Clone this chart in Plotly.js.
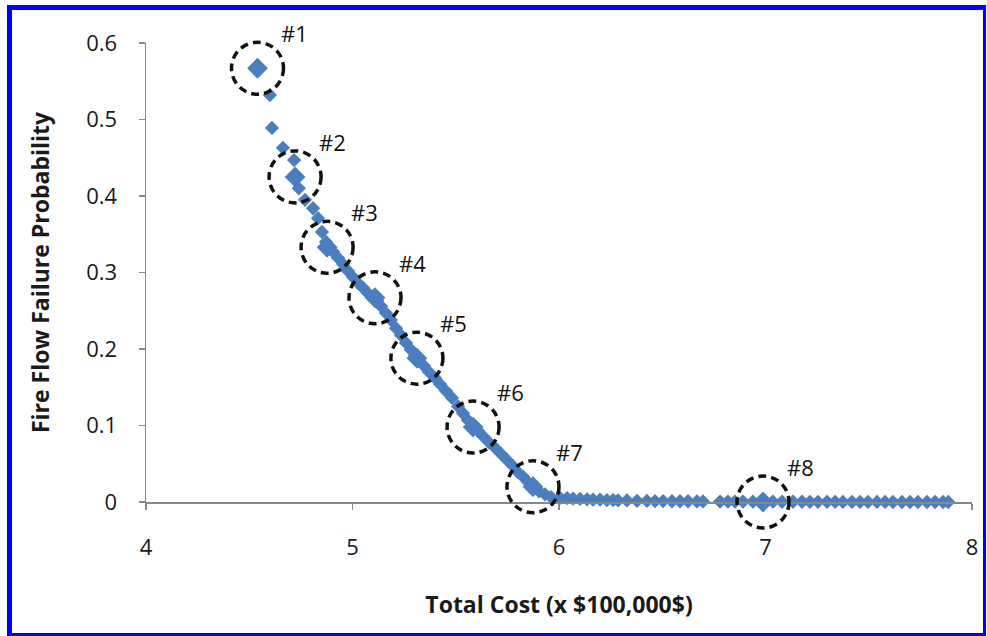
<!DOCTYPE html>
<html>
<head>
<meta charset="utf-8">
<script src="https://cdn.plot.ly/plotly-3.0.1.min.js"></script>
<style>
html,body{margin:0;padding:0;background:#fff;}
#wrap{position:relative;width:987px;height:636px;}
#chart{width:987px;height:636px;}
#frame{position:absolute;left:7px;top:5px;right:1px;bottom:0px;border-style:solid;border-color:#0000ff;border-width:5px 3px 3px 5px;pointer-events:none;box-sizing:border-box;}
</style>
</head>
<body>
<div id="wrap"><div id="chart"></div><div id="frame"></div></div>
<script>
// Pareto front: total cost (x $100,000) vs fire flow failure probability
const costX = [
  4.542, 4.600, 4.610, 4.663, 4.717, 4.722, 4.740, 4.770,
  4.809, 4.833, 4.852, 4.872, 4.886, 4.906, 4.930, 4.954, 4.978, 5.002,
  5.027, 5.051, 5.075, 5.099, 5.119, 5.138, 5.162, 5.186, 5.211, 5.235,
  5.259, 5.283, 5.303, 5.322, 5.346, 5.370, 5.400, 5.424, 5.453, 5.482,
  5.511, 5.535, 5.559, 5.584, 5.608, 5.632, 5.661, 5.690, 5.719, 5.748,
  5.777, 5.801, 5.826, 5.850, 5.874, 5.903, 5.932, 5.961,
  6.005, 6.039, 6.068, 6.102, 6.136, 6.165, 6.199, 6.232, 6.262, 6.286,
  6.329, 6.378, 6.426, 6.465, 6.504, 6.547, 6.586, 6.625, 6.668, 6.697,
  6.780, 6.818, 6.852, 6.891, 6.939, 6.988, 7.036, 7.080, 7.133, 7.177,
  7.215, 7.254, 7.298, 7.337, 7.375, 7.419, 7.458, 7.496, 7.540, 7.579,
  7.617, 7.661, 7.700, 7.738, 7.782, 7.821, 7.860, 7.885
];
const failProb = [
  0.567, 0.532, 0.489, 0.463, 0.447, 0.425, 0.410, 0.395,
  0.384, 0.371, 0.353, 0.340, 0.332, 0.327, 0.319, 0.311, 0.302, 0.294,
  0.286, 0.280, 0.273, 0.268, 0.263, 0.256, 0.247, 0.238, 0.227, 0.218,
  0.208, 0.199, 0.191, 0.184, 0.178, 0.170, 0.162, 0.154, 0.145, 0.136,
  0.125, 0.116, 0.107, 0.099, 0.093, 0.086, 0.078, 0.071, 0.063, 0.055,
  0.047, 0.039, 0.033, 0.026, 0.020, 0.014, 0.010, 0.0065,
  0.0055, 0.005, 0.0045, 0.004, 0.0035, 0.003, 0.003, 0.0025, 0.0025, 0.002,
  0.002, 0.0015, 0.0015, 0.0012, 0.0012, 0.001, 0.001, 0.001, 0.0008, 0.0008,
  0.0006, 0.0006, 0.0005, 0.0005, 0.0004, 0.0, 0.0004, 0.0003, 0.0003, 0.0003,
  0.0002, 0.0002, 0.0002, 0.0002, 0.0001, 0.0001, 0.0001, 0.0001, 0.0001, 0.0001,
  0.0, 0.0, 0.0, 0.0, 0.0, 0.0, 0.0, 0.0
];
// Selected solutions (circled)
const selLabels = ["#1", "#2", "#3", "#4", "#5", "#6", "#7", "#8"];
const selX = [4.540, 4.722, 4.877, 5.109, 5.312, 5.584, 5.874, 6.988];
const selY = [0.567, 0.425, 0.333, 0.267, 0.188, 0.098, 0.020, 0.0];

const xTicks = [4, 5, 6, 7, 8];
const yTicks = [0, 0.1, 0.2, 0.3, 0.4, 0.5, 0.6];
const xTitle = "Total Cost (x $100,000$)";
const yTitle = "Fire Flow Failure Probability";

const xRange = [4, 8];
const yRange = [0, 0.6];

const blue = "#4a7ebf";
const tickFont = {family: "Open Sans, sans-serif", size: 22, color: "#1a1a1a"};
const titleFont = {family: "Open Sans, sans-serif", size: 23, color: "#1a1a1a", weight: "bold"};

const traces = [
  {
    x: costX, y: failProb, type: "scatter", mode: "markers",
    marker: {symbol: "diamond", size: 11, color: blue, line: {width: 0}},
    hoverinfo: "x+y", showlegend: false, cliponaxis: false
  },
  {
    x: selX, y: selY, type: "scatter", mode: "markers",
    marker: {symbol: "diamond", size: 16, color: blue, line: {width: 0}},
    hoverinfo: "x+y", showlegend: false, cliponaxis: false
  }
];

// circles placed in paper coordinates (converted through the axis ranges) so they are not clipped
const toPaperX = v => (v - xRange[0]) / (xRange[1] - xRange[0]);
const toPaperY = v => (v - yRange[0]) / (yRange[1] - yRange[0]);
const shapes = selX.map((cx, i) => ({
  type: "circle", xref: "paper", yref: "paper",
  xsizemode: "pixel", ysizemode: "pixel",
  xanchor: toPaperX(cx), yanchor: toPaperY(selY[i]),
  x0: -26, x1: 26, y0: -26, y1: 26,
  line: {color: "#111", width: 3.5, dash: "8px,5px"},
  layer: "above"
}));

const annotations = selLabels.map((t, i) => ({
  x: selX[i], y: selY[i], xref: "x", yref: "y",
  text: t, showarrow: false,
  xshift: 37, yshift: 35,
  font: {family: "Open Sans, sans-serif", size: 22, color: "#111"}
}));

const layout = {
  width: 987, height: 636,
  margin: {l: 146, r: 15, t: 43, b: 134},
  paper_bgcolor: "#fff", plot_bgcolor: "#fff",
  showlegend: false,
  xaxis: {
    range: xRange, tickvals: xTicks, ticktext: xTicks.map(String),
    showgrid: false, zeroline: false,
    showline: true, linecolor: "#888", linewidth: 1.5,
    ticks: "outside", ticklen: 6, tickcolor: "#888", tickwidth: 1.5,
    ticklabelstandoff: 19,
    tickfont: tickFont,
    title: {text: xTitle, font: titleFont, standoff: 37}
  },
  yaxis: {
    range: yRange, tickvals: yTicks, ticktext: yTicks.map(v => v === 0 ? "0" : v.toFixed(1)),
    showgrid: false, zeroline: false,
    showline: true, linecolor: "#888", linewidth: 1.5,
    ticks: "outside", ticklen: 6, tickcolor: "#888", tickwidth: 1.5,
    ticklabelstandoff: 17,
    tickfont: tickFont,
    title: {text: yTitle, font: titleFont, standoff: 30}
  },
  shapes: shapes,
  annotations: annotations
};

Plotly.newPlot("chart", traces, layout, {displayModeBar: false, staticPlot: true});
</script>
</body>
</html>
